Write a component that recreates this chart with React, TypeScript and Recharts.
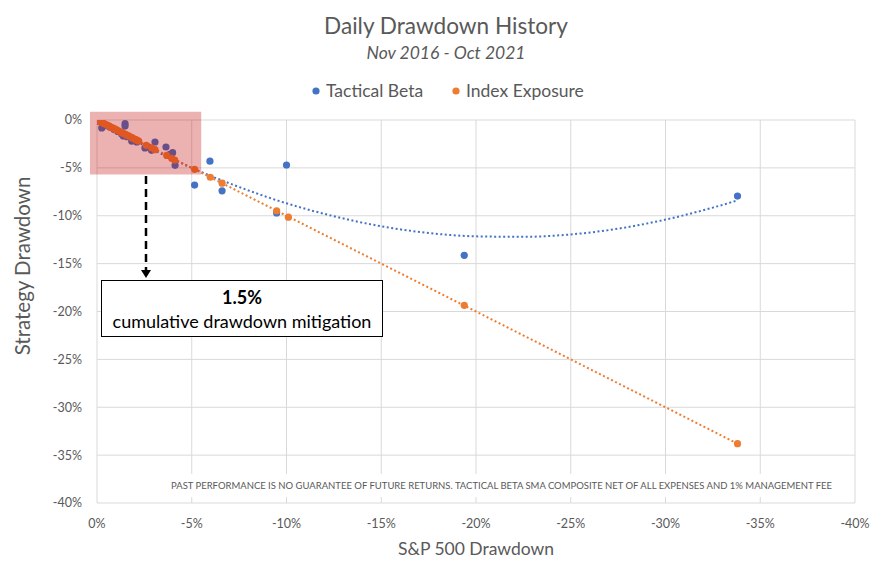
import {
  ComposedChart,
  Scatter,
  Line,
  XAxis,
  YAxis,
  CartesianGrid,
  ReferenceArea,
} from 'recharts'

// S&P 500 drawdown (x) vs strategy drawdown (y), in percent
const tacticalBeta = [
  { x: 0, y: 0 }, { x: -0.1, y: -0.15 }, { x: -0.25, y: -0.83 }, { x: -0.3, y: -0.35 },
  { x: -0.5, y: -0.6 }, { x: -0.7, y: -0.75 }, { x: -0.9, y: -1.0 }, { x: -1.1, y: -1.2 },
  { x: -1.3, y: -1.45 }, { x: -1.39, y: -1.67 }, { x: -1.48, y: -0.38 }, { x: -1.48, y: -0.63 },
  { x: -1.6, y: -1.75 }, { x: -1.83, y: -2.2 }, { x: -2.0, y: -2.05 }, { x: -2.1, y: -2.3 },
  { x: -2.53, y: -2.92 }, { x: -2.7, y: -2.8 }, { x: -2.88, y: -3.17 }, { x: -3.06, y: -2.3 },
  { x: -3.64, y: -2.82 }, { x: -3.85, y: -3.6 }, { x: -3.99, y: -3.41 }, { x: -4.12, y: -4.73 },
  { x: -5.15, y: -6.8 }, { x: -5.96, y: -4.3 }, { x: -6.6, y: -7.4 }, { x: -9.48, y: -9.7 },
  { x: -10.0, y: -4.7 }, { x: -19.38, y: -14.13 }, { x: -33.8, y: -7.95 },
]

const indexExposure = [
  { x: 0, y: 0 }, { x: -0.05, y: -0.05 }, { x: -0.12, y: -0.12 }, { x: -0.2, y: -0.21 },
  { x: -0.28, y: -0.28 }, { x: -0.35, y: -0.36 }, { x: -0.45, y: -0.45 }, { x: -0.55, y: -0.56 },
  { x: -0.62, y: -0.62 }, { x: -0.7, y: -0.71 }, { x: -0.8, y: -0.8 }, { x: -0.9, y: -0.91 },
  { x: -0.98, y: -0.98 }, { x: -1.05, y: -1.06 }, { x: -1.15, y: -1.15 }, { x: -1.25, y: -1.26 },
  { x: -1.32, y: -1.32 }, { x: -1.4, y: -1.41 }, { x: -1.5, y: -1.5 }, { x: -1.6, y: -1.61 },
  { x: -1.68, y: -1.68 }, { x: -1.75, y: -1.76 }, { x: -1.85, y: -1.85 }, { x: -1.95, y: -1.96 },
  { x: -2.05, y: -2.05 }, { x: -2.12, y: -2.13 }, { x: -2.2, y: -2.2 }, { x: -2.6, y: -2.65 },
  { x: -2.88, y: -2.9 }, { x: -3.06, y: -3.1 }, { x: -3.68, y: -3.7 }, { x: -3.94, y: -4.0 },
  { x: -4.1, y: -4.2 }, { x: -5.15, y: -5.15 }, { x: -5.98, y: -5.98 }, { x: -6.6, y: -6.6 },
  { x: -9.48, y: -9.5 }, { x: -10.1, y: -10.15 }, { x: -19.38, y: -19.35 }, { x: -33.8, y: -33.8 },
]

// trendlines
const tacticalTrend = [
  { x: 0, y: 0 }, { x: -2.5, y: -2.65 }, { x: -5, y: -5.0 }, { x: -7.5, y: -7.0 },
  { x: -10, y: -8.7 }, { x: -12.5, y: -10.05 }, { x: -15, y: -11.1 }, { x: -17.5, y: -11.8 },
  { x: -20, y: -12.15 }, { x: -22.5, y: -12.2 }, { x: -25, y: -11.95 }, { x: -27.5, y: -11.35 },
  { x: -30, y: -10.4 }, { x: -32.5, y: -9.15 }, { x: -33.8, y: -8.4 },
]
const indexTrend = [{ x: 0, y: 0 }, { x: -33.8, y: -33.8 }]

const ticks = [0, -5, -10, -15, -20, -25, -30, -35, -40]

const BLUE = '#4472C4'
const ORANGE = '#ED7D31'
const GREY = '#595959'
const FONT = 'Lato, "Open Sans", sans-serif'

const dot = (color: string) => (props: any) => (
  <circle cx={props.cx} cy={props.cy} r={3.6} fill={color} />
)

export default function App() {
  const tickStyle = { fontSize: 12.5, fill: GREY, fontFamily: FONT }

  return (
    <div style={{ position: 'relative', width: 893, height: 577, background: '#fff', fontFamily: FONT }}>
      <style>{'body{margin:0}'}</style>
      <ComposedChart width={893} height={577} margin={{ top: 120, right: 38, left: 0, bottom: 0 }}>
        <CartesianGrid stroke="#d9d9d9" />
        <XAxis
          type="number"
          dataKey="x"
          domain={[-40, 0]}
          ticks={ticks}
          reversed
          allowDataOverflow
          tickFormatter={(v: number) => `${v}%`}
          tick={tickStyle}
          tickLine={false}
          axisLine={false}
          tickMargin={10}
          height={74}
        />
        <YAxis
          type="number"
          dataKey="y"
          domain={[-40, 0]}
          ticks={ticks}
          allowDataOverflow
          tickFormatter={(v: number) => `${v}%`}
          tick={tickStyle}
          tickLine={false}
          axisLine={false}
          tickMargin={9}
          width={97}
        />
        <Line
          data={tacticalTrend}
          dataKey="y"
          type="monotone"
          stroke={BLUE}
          strokeWidth={2}
          strokeDasharray="2 2.5"
          dot={false}
          activeDot={false}
          isAnimationActive={false}
        />
        <Line
          data={indexTrend}
          dataKey="y"
          type="linear"
          stroke={ORANGE}
          strokeWidth={2}
          strokeDasharray="2 2.5"
          dot={false}
          activeDot={false}
          isAnimationActive={false}
        />
        <Scatter data={tacticalBeta} dataKey="y" shape={dot(BLUE)} isAnimationActive={false} />
        <Scatter data={indexExposure} dataKey="y" shape={dot(ORANGE)} isAnimationActive={false} />
        <ReferenceArea
          x1={0.37}
          x2={-5.5}
          y1={0.85}
          y2={-5.7}
          ifOverflow="visible"
          fill="rgb(192,0,0)"
          fillOpacity={0.3}
          stroke="none"
          zIndex={700}
        />
      </ComposedChart>

      <svg
        width={893}
        height={577}
        style={{ position: 'absolute', left: 0, top: 0, pointerEvents: 'none' }}
        fontFamily={FONT}
      >
        <text x={446} y={34} textAnchor="middle" fontSize={22.6} fill={GREY}>
          Daily Drawdown History
        </text>
        <text x={446} y={58.5} textAnchor="middle" fontSize={17.5} fontStyle="italic" fill={GREY}>
          Nov 2016 - Oct 2021
        </text>

        <circle cx={316} cy={91} r={3.6} fill={BLUE} />
        <text x={326} y={97} fontSize={17.5} fill={GREY}>Tactical Beta</text>
        <circle cx={456} cy={91} r={3.6} fill={ORANGE} />
        <text x={466} y={97} fontSize={17.5} fill={GREY}>Index Exposure</text>

        <text
          transform="translate(30,266) rotate(-90)"
          textAnchor="middle"
          fontSize={20.5}
          fill={GREY}
        >
          Strategy Drawdown
        </text>
        <text x={476} y={555} textAnchor="middle" fontSize={17.5} fill={GREY}>
          S&amp;P 500 Drawdown
        </text>

        <rect x={163} y={474} width={682} height={23} fill="#fff" />
        <text
          x={171}
          y={488.5}
          fontSize={9.5}
          fill={GREY}
          textLength={661}
          lengthAdjust="spacingAndGlyphs"
        >
          PAST PERFORMANCE IS NO GUARANTEE OF FUTURE RETURNS. TACTICAL BETA SMA COMPOSITE NET OF ALL EXPENSES AND 1% MANAGEMENT FEE
        </text>

        <line x1={146} y1={176} x2={146} y2={271} stroke="#000" strokeWidth={2.5} strokeDasharray="8 5" />
        <polygon points="141,270 151,270 146,278" fill="#000" />

        <rect x={101.5} y={280.5} width={281} height={56} fill="#fff" stroke="#000" strokeWidth={1} />
        <text x={242} y={304} textAnchor="middle" fontSize={18} fontWeight="bold" fill="#000">
          1.5%
        </text>
        <text x={242} y={327.5} textAnchor="middle" fontSize={18} fill="#000">
          cumulative drawdown mitigation
        </text>
      </svg>
    </div>
  )
}
